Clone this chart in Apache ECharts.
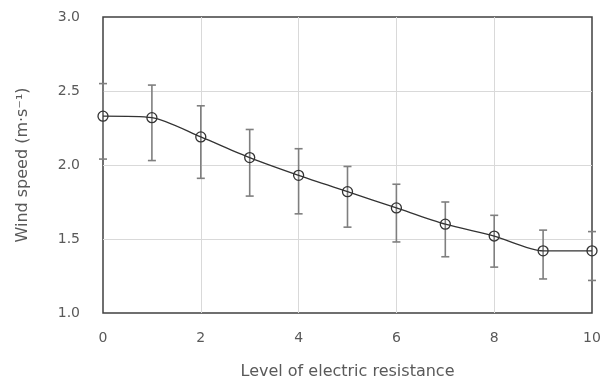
<!DOCTYPE html>
<html>
<head>
<meta charset="utf-8">
<script src="https://cdn.jsdelivr.net/npm/echarts@6/dist/echarts.min.js"></script>
<style>
  html, body { margin: 0; padding: 0; background: #fff; }
  #chart { width: 605px; height: 385px; }
</style>
</head>
<body>
<div id="chart"></div>
<script>
// levels of electric resistance
const levels = [0, 1, 2, 3, 4, 5, 6, 7, 8, 9, 10]
// mean wind speed (m/s)
const windSpeed = [2.33, 2.32, 2.19, 2.05, 1.93, 1.82, 1.71, 1.60, 1.52, 1.42, 1.42]
// error bar ends
const errUpper = [2.55, 2.54, 2.40, 2.24, 2.11, 1.99, 1.87, 1.75, 1.66, 1.56, 1.55]
const errLower = [2.04, 2.03, 1.91, 1.79, 1.67, 1.58, 1.48, 1.38, 1.31, 1.23, 1.22]

const textColor = '#595959'
const fontFamily = '"DejaVu Sans", sans-serif'

const myChart = echarts.init(document.getElementById('chart'))

const option = {
  animation: false,
  grid: {
    left: 103,
    right: 13,
    top: 17,
    bottom: 71,
    show: true,
    borderColor: '#404040',
    borderWidth: 1.5,
    backgroundColor: 'transparent'
  },
  xAxis: {
    type: 'value',
    min: 0,
    max: 10,
    interval: 2,
    name: 'Level of electric resistance',
    nameLocation: 'middle',
    nameGap: 51,
    nameTextStyle: { color: textColor, fontSize: 16, fontFamily: fontFamily },
    axisLine: { show: false },
    axisTick: { show: false },
    axisLabel: { color: textColor, fontSize: 14, margin: 18, fontFamily: fontFamily },
    splitLine: {
      show: true,
      showMinLine: false,
      showMaxLine: false,
      lineStyle: { color: '#d9d9d9', width: 1 }
    }
  },
  yAxis: {
    type: 'value',
    min: 1,
    max: 3,
    interval: 0.5,
    name: 'Wind speed (m·s⁻¹)',
    nameLocation: 'middle',
    nameGap: 72,
    nameTextStyle: { color: textColor, fontSize: 16, fontFamily: fontFamily },
    axisLine: { show: false },
    axisTick: { show: false },
    axisLabel: {
      color: textColor,
      fontSize: 14,
      margin: 23,
      fontFamily: fontFamily,
      formatter: v => v.toFixed(1)
    },
    splitLine: {
      show: true,
      showMinLine: false,
      showMaxLine: false,
      lineStyle: { color: '#d9d9d9', width: 1 }
    }
  },
  series: [
    {
      // error bars
      type: 'custom',
      clip: false,
      z: 3,
      data: levels.map((x, i) => [x, errLower[i], errUpper[i]]),
      renderItem: function (params, api) {
        const lo = api.coord([api.value(0), api.value(1)])
        const hi = api.coord([api.value(0), api.value(2)])
        const half = 4
        const style = { stroke: '#7f7f7f', lineWidth: 1.6 }
        return {
          type: 'group',
          children: [
            { type: 'line', shape: { x1: hi[0], y1: hi[1], x2: lo[0], y2: lo[1] }, style: style },
            { type: 'line', shape: { x1: hi[0] - half, y1: hi[1], x2: hi[0] + half, y2: hi[1] }, style: style },
            { type: 'line', shape: { x1: lo[0] - half, y1: lo[1], x2: lo[0] + half, y2: lo[1] }, style: style }
          ]
        }
      }
    },
    {
      type: 'line',
      z: 4,
      smooth: 0.25,
      data: levels.map((x, i) => [x, windSpeed[i]]),
      symbol: 'circle',
      symbolSize: 10,
      lineStyle: { color: '#333', width: 1.3 },
      itemStyle: { color: 'rgba(0,0,0,0)', borderColor: '#333', borderWidth: 1.3 }
    }
  ]
}

myChart.setOption(option)
</script>
</body>
</html>
